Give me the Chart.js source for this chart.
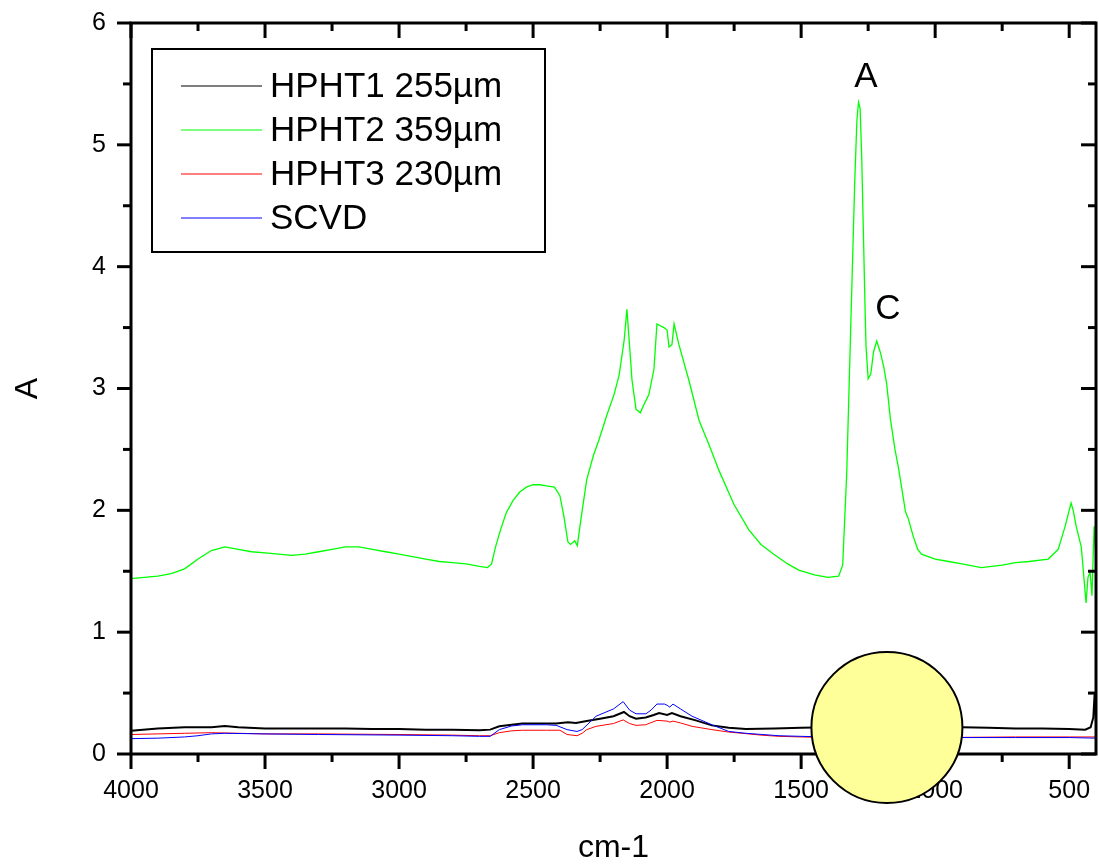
<!DOCTYPE html>
<html>
<head>
<meta charset="utf-8">
<script src="https://cdn.jsdelivr.net/npm/chart.js@4.4.1/dist/chart.umd.min.js"></script>
<style>
html,body{margin:0;padding:0;background:#fff;}
#wrap{width:1099px;height:865px;position:relative;}
canvas{display:block;}
</style>
</head>
<body>
<div id="wrap"><canvas id="c" width="1099" height="865"></canvas></div>
<script>
// ---------- DATA ----------
const seriesNames = ['HPHT1 255\u00B5m', 'HPHT2 359\u00B5m', 'HPHT3 230\u00B5m', 'SCVD'];

const hpht1Wn  = [4000,3900,3800,3700,3650,3600,3500,3400,3300,3200,3100,3000,2900,2800,2700,2660,2626,2580,2540,2480,2414,2370,2340,2300,2250,2200,2161,2140,2116,2080,2050,2030,2000,1982,1950,1893,1833,1770,1706,1600,1500,1400,1200,1000,900,800,700,600,500,440,420,410,405,400];
const hpht1Abs = [0.19,0.21,0.22,0.22,0.23,0.22,0.21,0.21,0.21,0.21,0.205,0.205,0.2,0.2,0.195,0.2,0.227,0.24,0.25,0.25,0.25,0.26,0.255,0.27,0.29,0.31,0.345,0.31,0.29,0.3,0.32,0.336,0.32,0.336,0.31,0.276,0.235,0.215,0.205,0.21,0.215,0.22,0.22,0.225,0.22,0.215,0.21,0.21,0.205,0.2,0.22,0.3,0.5,0.25];

const hpht2Wn  = [4000,3950,3900,3850,3800,3750,3700,3650,3600,3550,3500,3450,3400,3350,3300,3250,3200,3150,3100,3050,3000,2950,2900,2850,2800,2750,2700,2670,2655,2640,2620,2600,2575,2550,2525,2500,2475,2450,2420,2400,2385,2370,2360,2345,2335,2320,2300,2275,2254,2225,2198,2179,2160,2150,2140,2131,2116,2100,2086,2068,2049,2038,2012,2000,1993,1982,1974,1956,1919,1881,1844,1807,1751,1695,1650,1602,1550,1509,1450,1400,1360,1345,1330,1315,1300,1292,1286,1280,1274,1268,1262,1258,1250,1240,1230,1218,1205,1192,1181,1167,1150,1137,1118,1111,1100,1081,1065,1051,1000,950,900,828,750,701,650,578,541,515,500,493,485,474,455,437,430,422,415,407,400];
const hpht2Abs = [1.44,1.45,1.46,1.48,1.52,1.60,1.67,1.70,1.68,1.66,1.65,1.64,1.63,1.64,1.66,1.68,1.70,1.70,1.68,1.66,1.64,1.62,1.60,1.58,1.57,1.56,1.54,1.53,1.56,1.70,1.85,1.98,2.08,2.15,2.19,2.21,2.21,2.20,2.19,2.12,1.95,1.74,1.72,1.75,1.71,1.95,2.25,2.45,2.58,2.78,2.95,3.11,3.40,3.65,3.35,3.07,2.83,2.80,2.87,2.95,3.16,3.53,3.50,3.48,3.34,3.36,3.53,3.36,3.07,2.74,2.54,2.33,2.05,1.84,1.72,1.64,1.56,1.51,1.47,1.45,1.46,1.55,2.30,3.50,4.70,5.20,5.35,5.30,4.90,4.30,3.70,3.35,3.08,3.12,3.30,3.39,3.30,3.18,3.04,2.75,2.50,2.35,2.09,1.99,1.93,1.78,1.68,1.64,1.60,1.58,1.56,1.53,1.55,1.57,1.58,1.60,1.68,1.87,2.00,2.06,2.00,1.87,1.70,1.24,1.45,1.49,1.30,1.87,1.60];

const hpht3Wn  = [4000,3900,3800,3700,3600,3500,3300,3000,2800,2700,2660,2626,2580,2540,2450,2400,2373,2336,2317,2300,2265,2200,2164,2140,2116,2080,2038,2000,1990,1978,1950,1907,1833,1770,1706,1650,1583,1500,1400,1000,700,500,400];
const hpht3Abs = [0.16,0.165,0.17,0.175,0.17,0.165,0.165,0.16,0.155,0.15,0.15,0.175,0.19,0.195,0.195,0.195,0.16,0.15,0.17,0.2,0.227,0.25,0.28,0.25,0.235,0.24,0.276,0.27,0.262,0.27,0.255,0.227,0.2,0.18,0.167,0.155,0.145,0.14,0.135,0.135,0.14,0.14,0.14];

const scvdWn  = [4000,3900,3800,3750,3700,3650,3500,3300,3000,2800,2700,2660,2626,2580,2540,2450,2414,2373,2336,2317,2265,2200,2164,2140,2116,2079,2060,2038,2010,2000,1990,1978,1950,1907,1833,1770,1706,1583,1500,1400,1000,700,500,400];
const scvdAbs = [0.126,0.13,0.14,0.15,0.165,0.17,0.165,0.16,0.155,0.15,0.145,0.145,0.2,0.23,0.24,0.24,0.235,0.2,0.185,0.2,0.31,0.37,0.43,0.36,0.33,0.33,0.36,0.41,0.41,0.40,0.385,0.41,0.37,0.31,0.24,0.185,0.17,0.15,0.145,0.14,0.135,0.135,0.135,0.13];

const xMajorTicks = [4000,3500,3000,2500,2000,1500,1000,500];
const xMinorTicks = [3750,3250,2750,2250,1750,1250,750];
const yMajorTicks = [0,1,2,3,4,5,6];
const yMinorTicks = [0.5,1.5,2.5,3.5,4.5,5.5];

const peakLabels = ['A','C'];
const peakLabelWn = [1258,1176];
const peakLabelAbs = [5.55,3.65];

const markerWn = [1180];
const markerAbs = [0.2175];

// ---------- STYLE ----------
const FONT = '"Liberation Sans", Arial, sans-serif';
const colors = ['#000000','#00ff00','#ff0000','#0000ff'];
const widths = [2,1.3,1,1];
const drawOrder = [3,2,1,0];

const toPts = (xs, ys) => xs.map((v,i) => ({x:v, y:ys[i]}));
const seriesData = [toPts(hpht1Wn,hpht1Abs), toPts(hpht2Wn,hpht2Abs), toPts(hpht3Wn,hpht3Abs), toPts(scvdWn,scvdAbs)];

const datasets = seriesNames.map((n,i) => ({
  label: n, data: seriesData[i], borderColor: colors[i], backgroundColor: colors[i],
  borderWidth: widths[i], pointRadius: 0, tension: 0, fill: false, order: drawOrder[i]
}));

const zeroPad = s => { s.paddingTop = 0; s.paddingBottom = 0; s.paddingLeft = 0; s.paddingRight = 0; };

const framePlugin = {
  id: 'frame',
  afterDatasetsDraw(chart) {
    const {ctx, chartArea: a, scales: {x, y}} = chart;
    ctx.save();
    ctx.strokeStyle = '#000';
    ctx.lineWidth = 3;
    ctx.lineCap = 'butt';
    const seg = (x1,y1,x2,y2) => { ctx.beginPath(); ctx.moveTo(x1,y1); ctx.lineTo(x2,y2); ctx.stroke(); };
    xMajorTicks.forEach(v => { const p = x.getPixelForValue(v); seg(p,a.bottom,p,a.bottom+15); seg(p,a.top,p,a.top+15); });
    xMinorTicks.forEach(v => { const p = x.getPixelForValue(v); seg(p,a.bottom,p,a.bottom+8); seg(p,a.top,p,a.top+8); });
    yMajorTicks.forEach(v => { const p = y.getPixelForValue(v); seg(a.left-14,p,a.left,p); seg(a.right-15,p,a.right,p); });
    yMinorTicks.forEach(v => { const p = y.getPixelForValue(v); seg(a.left-8,p,a.left,p); seg(a.right-8,p,a.right,p); });
    ctx.strokeRect(a.left, a.top, a.right-a.left, a.bottom-a.top);
    ctx.restore();
  },
  afterDraw(chart) {
    const {ctx, chartArea: a, scales: {x, y}} = chart;
    ctx.save();
    // peak labels
    ctx.fillStyle = '#000';
    ctx.font = '35px ' + FONT;
    ctx.textAlign = 'center';
    ctx.textBaseline = 'middle';
    peakLabels.forEach((t,i) => ctx.fillText(t, x.getPixelForValue(peakLabelWn[i]), y.getPixelForValue(peakLabelAbs[i])));
    // legend box
    const L = chart.options.plugins.frame.legend;
    const bx = a.left + L.dx, by = a.top + L.dy;
    ctx.fillStyle = '#fff';
    ctx.fillRect(bx, by, L.w, L.h);
    ctx.lineWidth = 2;
    ctx.strokeStyle = '#000';
    ctx.strokeRect(bx, by, L.w, L.h);
    ctx.font = L.size + 'px ' + FONT;
    ctx.textAlign = 'left';
    ctx.textBaseline = 'middle';
    chart.data.datasets.forEach((d,i) => {
      const ry = by + L.firstRow + i*L.rowGap;
      ctx.strokeStyle = d.borderColor;
      ctx.lineWidth = 1.2;
      ctx.beginPath(); ctx.moveTo(bx + L.lineX0, ry); ctx.lineTo(bx + L.lineX1, ry); ctx.stroke();
      ctx.fillStyle = '#000';
      ctx.fillText(d.label, bx + L.textX, ry + 1);
    });
    // yellow marker disc
    markerWn.forEach((v,i) => {
      ctx.beginPath();
      ctx.arc(x.getPixelForValue(v), y.getPixelForValue(markerAbs[i]), 75.5, 0, Math.PI*2);
      ctx.fillStyle = '#ffff99';
      ctx.fill();
      ctx.lineWidth = 2;
      ctx.strokeStyle = '#000';
      ctx.stroke();
    });
    ctx.restore();
  }
};

new Chart(document.getElementById('c'), {
  type: 'line',
  data: { datasets },
  plugins: [framePlugin],
  options: {
    responsive: false,
    animation: false,
    devicePixelRatio: 1,
    layout: { padding: { left: 0, right: 3, top: 23, bottom: 0 } },
    plugins: {
      legend: { display: false },
      tooltip: { enabled: false },
      frame: { legend: { dx: 21, dy: 26, w: 393, h: 203, firstRow: 37, rowGap: 44, lineX0: 29, lineX1: 110, textX: 118, size: 35 } }
    },
    scales: {
      x: {
        type: 'linear', reverse: true, min: 400, max: 4000,
        afterBuildTicks: s => { s.ticks = xMajorTicks.map(v => ({value: v})); },
        afterFit: s => { s.height = 111; zeroPad(s); },
        grid: { display: false, drawTicks: false },
        border: { display: false },
        ticks: { color: '#000', font: { family: FONT, size: 25 }, padding: 22, maxRotation: 0, autoSkip: false, callback: v => String(v) },
        title: { display: true, text: 'cm-1', color: '#000', font: { family: FONT, size: 32, lineHeight: 1 }, padding: { top: 0, bottom: 1 } }
      },
      y: {
        type: 'linear', min: 0, max: 6,
        afterBuildTicks: s => { s.ticks = yMajorTicks.map(v => ({value: v})); },
        afterFit: s => { s.width = 131; zeroPad(s); },
        grid: { display: false, drawTicks: false },
        border: { display: false },
        ticks: { color: '#000', font: { family: FONT, size: 25 }, padding: 25, callback: v => String(v) },
        title: { display: true, text: 'A', color: '#000', font: { family: FONT, size: 32, lineHeight: 1 }, padding: { top: 12, bottom: 0 } }
      }
    }
  }
});
</script>
</body>
</html>
